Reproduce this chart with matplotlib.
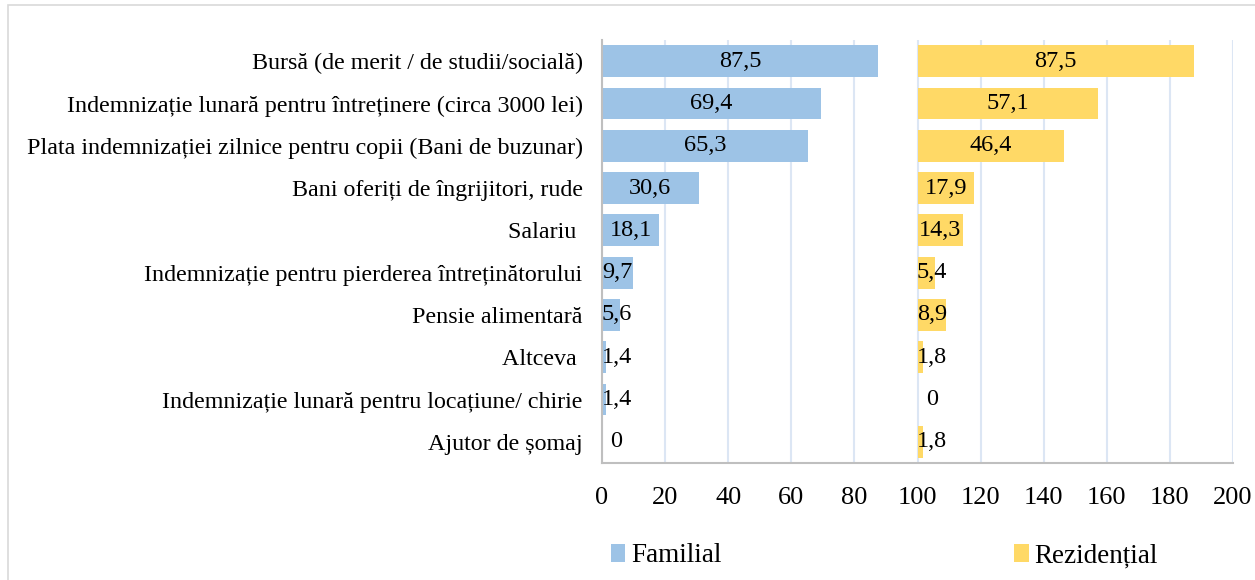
import matplotlib.pyplot as plt
import matplotlib.patches as patches
import numpy as np

categories = [
    "Bursă (de merit / de studii/socială)",
    "Indemnizație lunară pentru întreținere (circa 3000 lei)",
    "Plata indemnizației zilnice pentru copii (Bani de buzunar)",
    "Bani oferiți de îngrijitori, rude",
    "Salariu ",
    "Indemnizație pentru pierderea întreținătorului",
    "Pensie alimentară",
    "Altceva ",
    "Indemnizație lunară pentru locațiune/ chirie",
    "Ajutor de șomaj",
]
familial = [87.5, 69.4, 65.3, 30.6, 18.1, 9.7, 5.6, 1.4, 1.4, 0]
rezidential = [87.5, 57.1, 46.4, 17.9, 14.3, 5.4, 8.9, 1.8, 0, 1.8]
series_names = ["Familial", "Rezidențial"]
xticks = [0, 20, 40, 60, 80, 100, 120, 140, 160, 180, 200]

plt.rcParams['font.family'] = ['Liberation Serif', 'DejaVu Serif']

blue = '#9DC3E6'
yellow = '#FFD966'

fig = plt.figure(figsize=(12.55, 5.8), dpi=100)
ax = fig.add_axes([602/1255, 1-463/580, 631/1255, 423/580])

y = np.arange(len(categories))
offset = 100
ax.barh(y, familial, height=0.75, left=0, color=blue, zorder=2, label=series_names[0])
ax.barh(y, rezidential, height=0.75, left=offset, color=yellow, zorder=2, label=series_names[1])

def fmt(v):
    return ("%.1f" % v).replace(".", ",") if v != 0 else "0"

for start, vals in [(0, familial), (offset, rezidential)]:
    for yi, v in zip(y, vals):
        ax.text(start + max(v/2, 4.6), yi, fmt(v), ha='center', va='center',
                fontsize=17.5, color='black', zorder=3)

ax.set_xlim(0, 200)
ax.set_ylim(len(categories)-0.5, -0.5)
ax.set_xticks(xticks)
ax.set_yticks(y)
ax.set_yticklabels(categories)
ax.xaxis.grid(True, color='#DCE6F4', linewidth=1.5, zorder=0)
ax.set_axisbelow(True)
for s in ['top', 'right']:
    ax.spines[s].set_visible(False)
ax.spines['left'].set_color('#BFBFBF')
ax.spines['bottom'].set_color('#BFBFBF')
ax.spines['left'].set_linewidth(1.5)
ax.spines['bottom'].set_linewidth(1.5)
ax.tick_params(axis='x', length=0, pad=17, labelsize=19)
ax.tick_params(axis='y', length=0, pad=14, labelsize=17.3)

fig.legend(loc='center', bbox_to_anchor=(884/1255, 1-556/580), ncol=2, frameon=False,
           fontsize=19.5, handlelength=0.55, handleheight=0.65, handletextpad=0.2,
           columnspacing=10.8)

border = patches.Rectangle((8/1255, -0.1), 1.1, 1-5/580+0.1, transform=fig.transFigure,
                           fill=False, edgecolor='#D9D9D9', linewidth=1.2, clip_on=False)
fig.patches.append(border)

fig.savefig('out.png', dpi=100)
